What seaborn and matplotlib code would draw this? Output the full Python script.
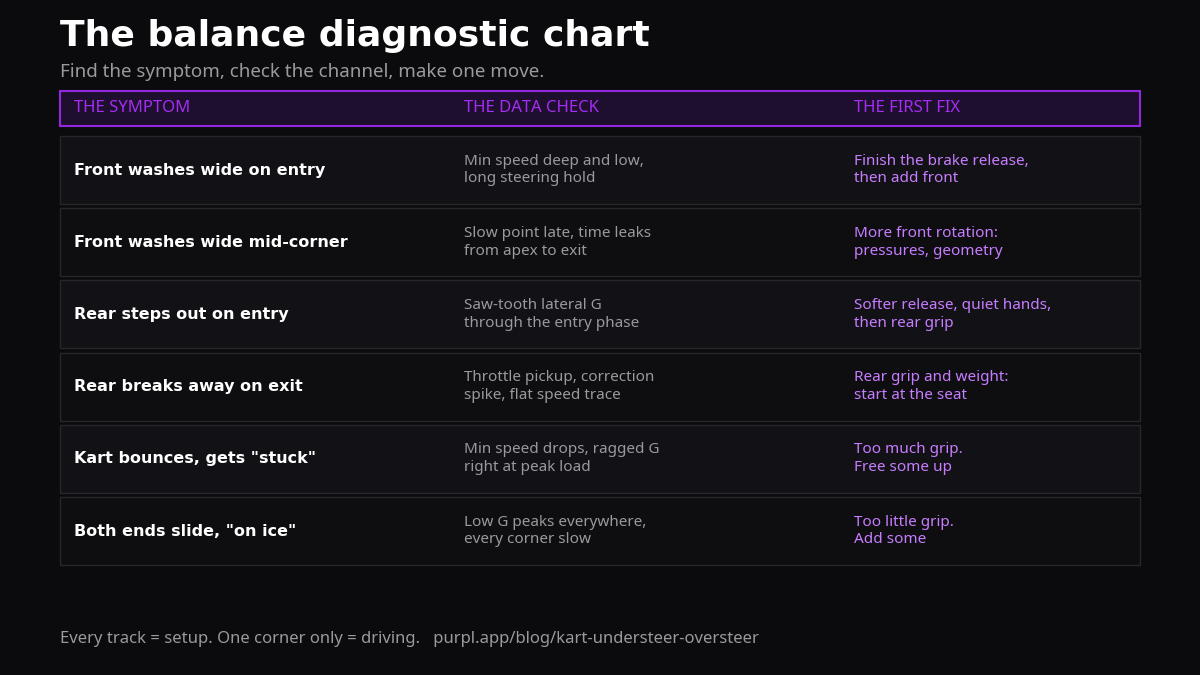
import matplotlib.pyplot as plt
import matplotlib.patches as mpatches
import seaborn as sns

# table content
headers = ['THE SYMPTOM', 'THE DATA CHECK', 'THE FIRST FIX']
symptoms = ['Front washes wide on entry', 'Front washes wide mid-corner',
            'Rear steps out on entry', 'Rear breaks away on exit',
            'Kart bounces, gets "stuck"', 'Both ends slide, "on ice"']
checks = ['Min speed deep and low,\nlong steering hold',
          'Slow point late, time leaks\nfrom apex to exit',
          'Saw-tooth lateral G\nthrough the entry phase',
          'Throttle pickup, correction\nspike, flat speed trace',
          'Min speed drops, ragged G\nright at peak load',
          'Low G peaks everywhere,\nevery corner slow']
fixes = ['Finish the brake release,\nthen add front',
         'More front rotation:\npressures, geometry',
         'Softer release, quiet hands,\nthen rear grip',
         'Rear grip and weight:\nstart at the seat',
         'Too much grip.\nFree some up',
         'Too little grip.\nAdd some']

BG = '#0b0b0d'
sns.set_theme(style='dark', rc={'axes.facecolor': BG, 'figure.facecolor': BG})
plt.rcParams['font.family'] = ['DejaVu Sans']

fig = plt.figure(figsize=(12, 6.75), dpi=100)
ax = fig.add_axes([0, 0, 1, 1])
ax.set_xlim(0, 1200)
ax.set_ylim(675, 0)
ax.axis('off')

ax.text(60, 36, 'The balance diagnostic chart', color='white', fontsize=26,
        fontweight='bold', va='center')
ax.text(60, 72, 'Find the symptom, check the channel, make one move.', color='#9a9a9e',
        fontsize=13.5, va='center', family='Noto Sans')

left, width = 60, 1080
cols = [74, 464, 854]

ax.add_patch(mpatches.Rectangle((left, 91), width, 35, facecolor='#1f0f2e',
                                edgecolor='#9327e0', lw=1.5))
for x, h in zip(cols, headers):
    ax.text(x, 108.5, h, color='#a52cf5', fontsize=12, fontweight='bold',
            va='center', family='Noto Sans')

top, rh, step = 136, 68, 72.2
for i, (s, c, f) in enumerate(zip(symptoms, checks, fixes)):
    y = top + i * step
    fill = '#121216' if i % 2 == 0 else '#0e0e11'
    ax.add_patch(mpatches.Rectangle((left, y), width, rh, facecolor=fill,
                                    edgecolor='#27272b', lw=1))
    yc = y + rh / 2
    ax.text(cols[0], yc, s, color='white', fontsize=11.5, fontweight='bold', va='center')
    ax.text(cols[1], yc, c, color='#9a9a9e', fontsize=11, va='center',
            family='Noto Sans', linespacing=1.25)
    ax.text(cols[2], yc, f, color='#c77dff', fontsize=11, va='center',
            family='Noto Sans', linespacing=1.25)

ax.text(60, 639, 'Every track = setup. One corner only = driving.   purpl.app/blog/kart-understeer-oversteer',
        color='#9a9a9e', fontsize=12, va='center', family='Noto Sans')

fig.savefig('out.png', dpi=100, facecolor=BG)
